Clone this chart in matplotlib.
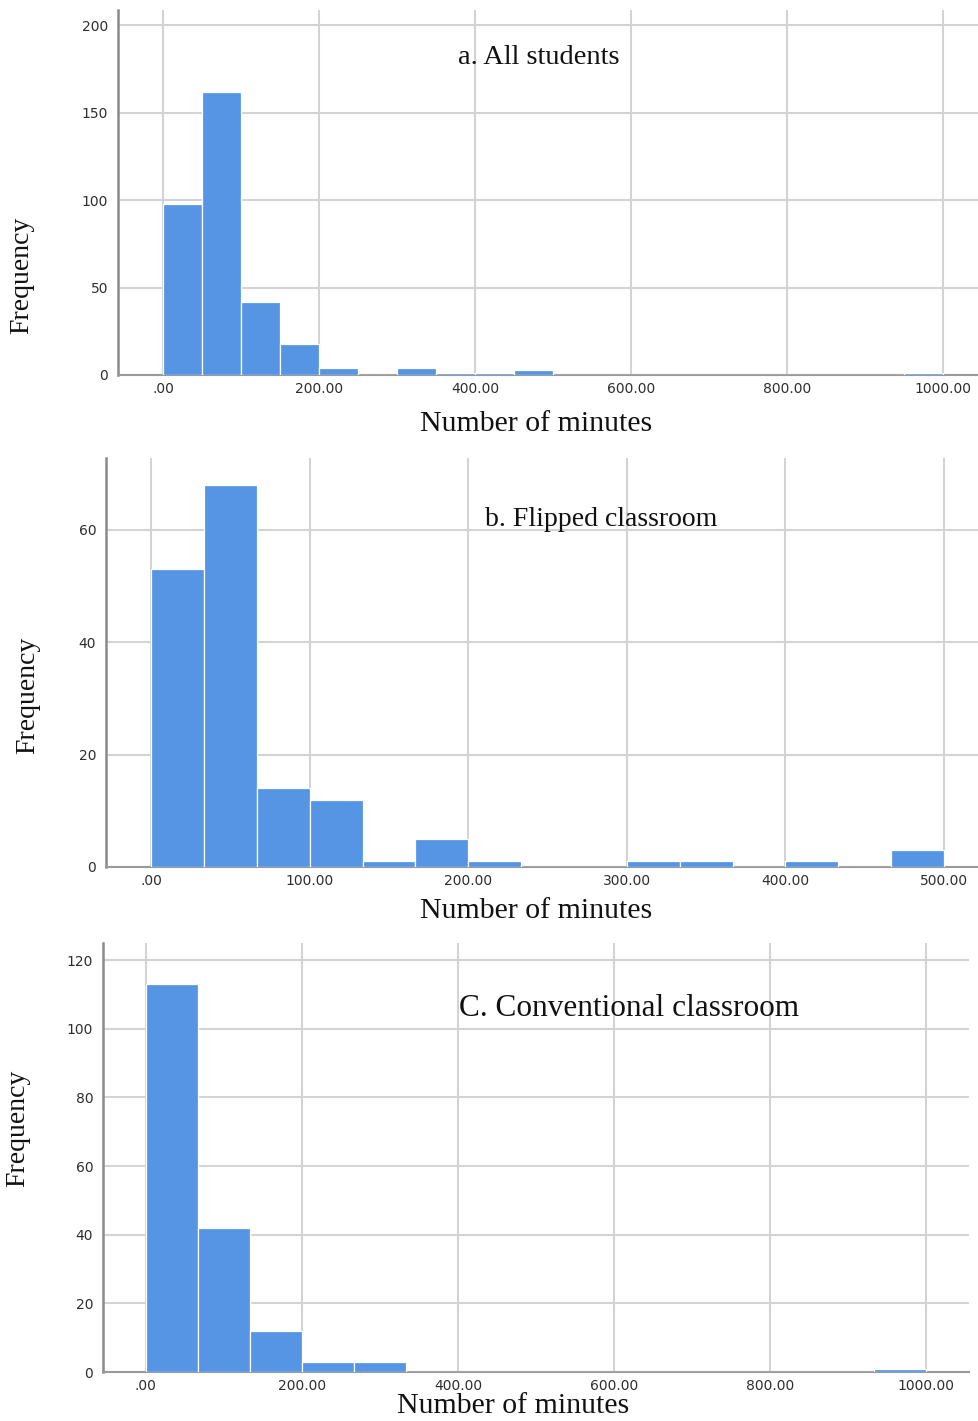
import matplotlib
matplotlib.use("Agg")
import matplotlib.pyplot as plt
import numpy as np

W, H = 979, 1421

# counts per bin
all_counts = [98, 162, 42, 18, 4, 0, 4, 1, 1, 3, 0, 0, 0, 0, 0, 0, 0, 0, 0, 1]
all_width = 50.0
flipped_counts = [53, 68, 14, 12, 1, 5, 1, 0, 0, 1, 1, 0, 1, 0, 3]
flipped_width = 100.0 / 3
conv_counts = [113, 42, 12, 3, 3, 0, 0, 0, 0, 0, 0, 0, 0, 0, 1]
conv_width = 200.0 / 3

all_xticks = [0, 200, 400, 600, 800, 1000]
flipped_xticks = [0, 100, 200, 300, 400, 500]
conv_xticks = [0, 200, 400, 600, 800, 1000]
all_yticks = [0, 50, 100, 150, 200]
flipped_yticks = [0, 20, 40, 60]
conv_yticks = [0, 20, 40, 60, 80, 100, 120]

titles = ["a. All students", "b. Flipped classroom", "C. Conventional classroom"]

BAR = "#5595e4"
GRID = "#d3d3d3"
SERIF = "Liberation Serif"


def fmt(v):
    return ".00" if v == 0 else f"{v:.2f}"


def px_axes(fig, left, top, right, bottom):
    return fig.add_axes([left / W, 1 - bottom / H, (right - left) / W, (bottom - top) / H])


def draw_panel(fig, box, counts, width, xlim, ylim, xticks, yticks):
    ax = px_axes(fig, *box)
    edges = np.arange(len(counts)) * width
    ax.bar(edges, counts, width=width, align="edge", color=BAR,
           edgecolor="white", linewidth=0.9, zorder=3)
    ax.set_xlim(*xlim)
    ax.set_ylim(*ylim)
    ax.set_xticks(xticks)
    ax.set_xticklabels([fmt(v) for v in xticks])
    ax.set_yticks(yticks)
    ax.grid(True, color=GRID, linewidth=1.5, zorder=0)
    for s in ("top", "right"):
        ax.spines[s].set_visible(False)
    ax.spines["left"].set_color("#8a8a8a")
    ax.spines["left"].set_linewidth(1.8)
    ax.spines["bottom"].set_color("#9a9a9a")
    ax.spines["bottom"].set_linewidth(1.5)
    ax.tick_params(length=0, labelsize=10, labelcolor="#2e2e2e", pad=5)
    ax.tick_params(axis="y", pad=7)
    return ax


fig = plt.figure(figsize=(W / 100, H / 100), dpi=100)

draw_panel(fig, (118, 10, 979, 375), all_counts, all_width,
           (-57.7, 1046), (0, 208.6), all_xticks, all_yticks)
draw_panel(fig, (106, 458, 979, 867), flipped_counts, flipped_width,
           (-28.4, 522), (0, 72.8), flipped_xticks, flipped_yticks)
draw_panel(fig, (103, 943, 969, 1372), conv_counts, conv_width,
           (-55, 1055), (0, 125), conv_xticks, conv_yticks)


def ftext(x, y, s, size, **kw):
    fig.text(x / W, 1 - y / H, s, fontsize=size, family=SERIF, color="#111111", **kw)


ftext(458, 57, titles[0], 20.5, ha="left", va="center")
ftext(485, 520, titles[1], 20, ha="left", va="center")
ftext(459, 1008, titles[2], 22.5, ha="left", va="center")

ftext(536, 424, "Number of minutes", 21.5, ha="center", va="center")
ftext(536, 911, "Number of minutes", 21.5, ha="center", va="center")
ftext(513, 1406, "Number of minutes", 21.5, ha="center", va="center")

ftext(22, 275, "Frequency", 20, ha="center", va="center", rotation=90)
ftext(28, 695, "Frequency", 20, ha="center", va="center", rotation=90)
ftext(18, 1128, "Frequency", 20, ha="center", va="center", rotation=90)

fig.savefig("out.png", dpi=100, facecolor="white")
